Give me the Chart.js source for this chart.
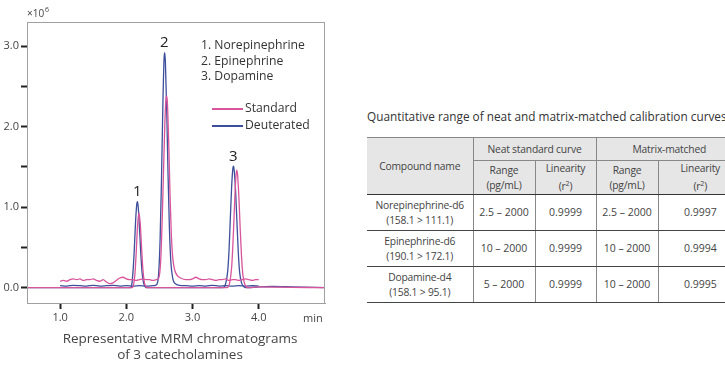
<!DOCTYPE html>
<html>
<head>
<meta charset="utf-8">
<script src="https://cdn.jsdelivr.net/npm/chart.js@4.4.1/dist/chart.umd.min.js"></script>
<style>
  html, body { margin: 0; padding: 0; background: #fff; }
  body { width: 725px; height: 368px; overflow: hidden; position: relative; font-family: "Open Sans", sans-serif; color: #333; }
  #chartBox { position: absolute; left: 0; top: 0; width: 345px; height: 330px; }
  #caption { position: absolute; left: 30px; top: 330px; width: 300px; text-align: center; font-size: 13.5px; line-height: 16px; color: #444; }
  #tblTitle { position: absolute; left: 367px; top: 108px; font-size: 11.8px; white-space: nowrap; color: #333; }
  table { position: absolute; left: 367px; top: 137px; width: 375px; border-collapse: collapse; font-family: "Open Sans", sans-serif; font-size: 10.3px; letter-spacing: -0.2px; color: #444; table-layout: fixed; }
  td, th { border: 1px solid #888; text-align: center; font-weight: normal; padding: 0; line-height: 15px; }
  th { background: #e6e6e6; }
  tr.h1 th { height: 22px; }
  tr.h2 th { height: 28px; }
  tr.h2 th, tr.h1 th[rowspan] { border-bottom: 1px solid #333; }
  td { height: 35px; }
  td.n { letter-spacing: 0; font-size: 10.5px; }
  table { border-top: 1px solid #333; border-bottom: 1px solid #333; }
  tr.d td { border-bottom: 1px solid #444; }
  td:first-child, th:first-child { border-left: none; }
  td:last-child, th:last-child { border-right: none; }
</style>
</head>
<body>
<div id="chartBox"><canvas id="chrom" width="345" height="330"></canvas></div>
<div id="caption">Representative MRM chromatograms<br>of 3 catecholamines</div>

<div id="tblTitle">Quantitative range of neat and matrix-matched calibration curves</div>
<table>
  <colgroup><col style="width:106px"><col style="width:62px"><col style="width:61px"><col style="width:62px"><col style="width:84px"></colgroup>
  <tr class="h1"><th rowspan="2">Compound name</th><th colspan="2">Neat standard curve</th><th colspan="2">Matrix-matched</th></tr>
  <tr class="h2"><th>Range<br>(pg/mL)</th><th>Linearity<br>(r<sup style="font-size:7px">2</sup>)</th><th>Range<br>(pg/mL)</th><th>Linearity<br>(r<sup style="font-size:7px">2</sup>)</th></tr>
  <tr class="d"><td>Norepinephrine-d6<br>(158.1 &gt; 111.1)</td><td class="n">2.5 – 2000</td><td class="n">0.9999</td><td class="n">2.5 – 2000</td><td class="n">0.9997</td></tr>
  <tr class="d"><td>Epinephrine-d6<br>(190.1 &gt; 172.1)</td><td class="n">10 – 2000</td><td class="n">0.9999</td><td class="n">10 – 2000</td><td class="n">0.9994</td></tr>
  <tr class="d"><td>Dopamine-d4<br>(158.1 &gt; 95.1)</td><td class="n">5 – 2000</td><td class="n">0.9999</td><td class="n">10 – 2000</td><td class="n">0.9995</td></tr>
</table>

<script>
// ---------- data (x = min, y = counts x10^6) ----------
// Standard trace with raised noisy baseline (carries peak 2)
const stdRaisedTime = [1.0,1.05,1.1,1.15,1.2,1.25,1.3,1.35,1.4,1.45,1.5,1.55,1.6,1.65,1.7,1.75,1.8,1.85,1.9,1.95,2.0,2.05,2.1,2.15,2.2,2.25,2.3,2.35,2.4,2.45,2.49,2.52,2.54,2.56,2.58,2.60,2.61,2.62,2.64,2.66,2.68,2.70,2.73,2.77,2.82,2.9,2.95,3.0,3.05,3.1,3.15,3.2,3.25,3.3,3.35,3.4,3.45,3.5,3.55,3.6,3.65,3.7,3.75,3.8,3.85,3.9,3.95,4.0];
const stdRaisedVal  = [0.08,0.09,0.08,0.10,0.11,0.10,0.11,0.09,0.10,0.10,0.11,0.09,0.08,0.10,0.07,0.05,0.06,0.09,0.12,0.13,0.11,0.10,0.10,0.09,0.10,0.11,0.10,0.10,0.09,0.10,0.12,0.35,0.8,1.4,2.0,2.36,2.38,2.3,1.8,1.15,0.65,0.38,0.22,0.15,0.12,0.10,0.10,0.11,0.13,0.11,0.10,0.10,0.11,0.10,0.09,0.10,0.10,0.11,0.09,0.10,0.10,0.09,0.10,0.11,0.10,0.09,0.10,0.10];

// Standard trace on zero baseline (peaks 1 and 3)
const stdZeroTime = [0.5,1.0,1.5,2.0,2.09,2.11,2.13,2.15,2.17,2.19,2.21,2.23,2.25,2.27,2.29,2.31,2.5,3.0,3.5,3.52,3.56,3.59,3.61,3.63,3.65,3.665,3.68,3.70,3.72,3.74,3.76,3.79,3.84,4.0,4.5,5.0];
const stdZeroVal  = [0,0,0,0,0,0.04,0.17,0.45,0.78,0.93,0.80,0.50,0.23,0.08,0.02,0,0,0,0,0,0.06,0.25,0.55,0.95,1.32,1.46,1.40,1.12,0.72,0.38,0.16,0.04,0,0.01,0.005,0];

// Deuterated trace with slightly raised baseline (carries peak 2)
const deutRaisedTime = [1.0,1.1,1.2,1.3,1.4,1.5,1.6,1.7,1.8,1.9,2.0,2.1,2.2,2.3,2.4,2.44,2.47,2.49,2.51,2.53,2.55,2.57,2.58,2.59,2.61,2.63,2.65,2.67,2.70,2.74,2.80,2.9,3.0,3.1,3.2,3.3,3.4,3.5,3.6,3.7,3.8,3.9,4.0];
const deutRaisedVal  = [0.025,0.02,0.03,0.025,0.02,0.03,0.02,0.025,0.03,0.02,0.025,0.02,0.025,0.02,0.025,0.03,0.06,0.2,0.6,1.3,2.2,2.85,2.92,2.8,2.2,1.4,0.75,0.35,0.12,0.05,0.03,0.025,0.02,0.025,0.02,0.03,0.02,0.025,0.02,0.025,0.02,0.025,0.02];

// Deuterated trace on zero baseline (peaks 1 and 3)
const deutZeroTime = [0.5,1.0,1.5,2.0,2.06,2.08,2.10,2.12,2.14,2.16,2.17,2.18,2.20,2.22,2.24,2.26,2.28,2.30,2.5,3.0,3.46,3.50,3.53,3.55,3.57,3.59,3.61,3.62,3.63,3.65,3.67,3.69,3.71,3.74,3.78,3.82,4.0,4.2,4.5,5.0];
const deutZeroVal  = [0,0,0,0,0,0.03,0.19,0.47,0.83,1.05,1.07,1.0,0.72,0.40,0.17,0.06,0.02,0,0,0,0,0.05,0.2,0.45,0.85,1.25,1.49,1.51,1.45,1.2,0.82,0.45,0.2,0.06,0.01,0,0.01,0.015,0.01,0];

// axes
const xTicks = [1, 2, 3, 4];
const yTicks = [0, 0.5, 1, 1.5, 2, 2.5, 3];
const xMin = 0.5, xMax = 5.0;
const yMin = -0.19, yMax = 3.3;

// annotations
const peakNames = ['1', '2', '3'];
const peakTimes = [2.165, 2.575, 3.615];
const peakTops  = [1.07, 2.92, 1.51];
const compoundLines = ['1. Norepinephrine', '2. Epinephrine', '3. Dopamine'];
const seriesNames = ['Standard', 'Deuterated'];

const PINK = '#d9559b';
const BLUE = '#3d4f9b';

const toXY = (ts, vs) => ts.map((t, i) => ({ x: t, y: vs[i] }));

function trace(label, ts, vs, color){
  return {
    label,
    data: toXY(ts, vs),
    borderColor: color,
    borderWidth: 1.3,
    pointRadius: 0,
    cubicInterpolationMode: 'monotone',
    fill: false
  };
}

// ---------- plugin: frame, peak numbers, in-plot legend ----------
const decorations = {
  id: 'decorations',
  afterDraw(chart){
    const { ctx, chartArea: a, scales: { x, y } } = chart;
    ctx.save();
    // frame
    ctx.strokeStyle = '#a0a0a0';
    ctx.lineWidth = 1;
    ctx.strokeRect(a.left + 0.5, a.top + 0.5, a.right - a.left - 1, a.bottom - a.top);

    // x10^6
    ctx.fillStyle = '#444';
    ctx.textBaseline = 'alphabetic';
    ctx.textAlign = 'left';
    ctx.font = '10px "Open Sans"';
    ctx.fillText('×10', 27, 17);
    ctx.font = '7px "Open Sans"';
    ctx.fillText('6', 45, 12);

    // "min"
    ctx.font = '11px "Open Sans"';
    ctx.fillText('min', 303, 322);

    // peak numbers
    ctx.fillStyle = '#222';
    ctx.textAlign = 'center';
    ctx.textBaseline = 'bottom';
    ctx.font = '15px "Open Sans"';
    peakNames.forEach((n, i) => {
      ctx.fillText(n, x.getPixelForValue(peakTimes[i]), y.getPixelForValue(peakTops[i]) - 2);
    });

    // compound list
    ctx.textAlign = 'left';
    ctx.textBaseline = 'middle';
    ctx.font = '12.2px "Open Sans"';
    ctx.fillStyle = '#333';
    compoundLines.forEach((s, i) => ctx.fillText(s, 201, 46 + i * 15.5));

    // series legend
    [PINK, BLUE].forEach((c, i) => {
      const yy = 109 + i * 17;
      ctx.strokeStyle = c;
      ctx.lineWidth = 2;
      ctx.beginPath();
      ctx.moveTo(212, yy);
      ctx.lineTo(243, yy);
      ctx.stroke();
      ctx.fillText(seriesNames[i], 245, yy);
    });
    ctx.restore();
  }
};

new Chart(document.getElementById('chrom'), {
  type: 'line',
  data: {
    datasets: [
      trace('Standard', stdZeroTime, stdZeroVal, PINK),
      trace('Standard', stdRaisedTime, stdRaisedVal, PINK),
      trace('Deuterated', deutZeroTime, deutZeroVal, BLUE),
      trace('Deuterated', deutRaisedTime, deutRaisedVal, BLUE)
    ]
  },
  options: {
    responsive: false,
    animation: false,
    layout: { padding: { top: 22, right: 20, left: 0, bottom: 0 } },
    plugins: { legend: { display: false }, tooltip: { enabled: false } },
    scales: {
      x: {
        type: 'linear',
        min: xMin, max: xMax,
        afterBuildTicks: s => { s.ticks = xTicks.map(v => ({ value: v })); },
        afterFit: s => { s.height = 27; },
        grid: { drawOnChartArea: false, drawTicks: true, tickLength: 6, tickColor: '#222', tickWidth: 2 },
        border: { color: '#a0a0a0' },
        ticks: { padding: 2, color: '#444', font: { family: 'Open Sans', size: 11 }, callback: v => v.toFixed(1) }
      },
      y: {
        min: yMin, max: yMax,
        afterBuildTicks: s => { s.ticks = yTicks.map(v => ({ value: v })); },
        afterFit: s => { s.width = 27; },
        grid: { drawOnChartArea: false, drawTicks: true, tickLength: 6, tickColor: '#222', tickWidth: 2 },
        border: { color: '#a0a0a0' },
        ticks: { padding: 2, color: '#444', font: { family: 'Open Sans', size: 11 },
          callback: v => (Number.isInteger(v) ? v.toFixed(1) : '') }
      }
    }
  },
  plugins: [decorations]
});
</script>
</body>
</html>
